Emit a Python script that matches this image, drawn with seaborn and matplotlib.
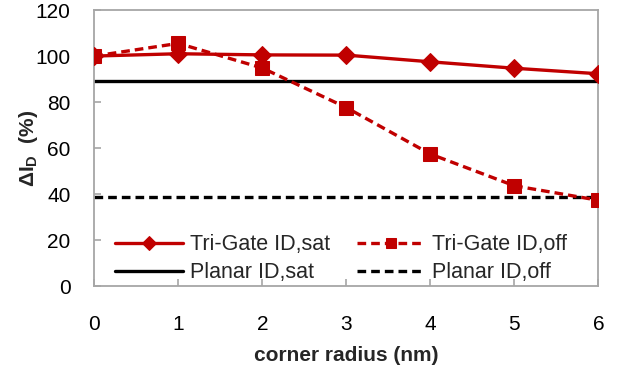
import matplotlib
matplotlib.use("Agg")
import matplotlib.pyplot as plt
import seaborn as sns
import pandas as pd
import numpy as np

radius = [0, 1, 2, 3, 4, 5, 6]
trigate_sat = [100, 101, 100.5, 100.4, 97.5, 94.7, 92.3]
trigate_off = [100, 105.5, 94.8, 77.6, 57.4, 43.6, 37.3]
planar_sat = 89.0
planar_off = 38.6

sns.set_theme(style="white")
plt.rcParams['font.family'] = ['Liberation Sans', 'DejaVu Sans']
plt.rcParams['mathtext.fontset'] = 'custom'
plt.rcParams['mathtext.rm'] = 'Liberation Sans'
plt.rcParams['mathtext.bf'] = 'Liberation Sans:bold'

fig = plt.figure(figsize=(6.24, 3.72), dpi=100)
ax = fig.add_axes([0.151, 0.231, 0.808, 0.742])

red = '#c00000'
dash = (0, (2.6, 1.5))
lw = 2.4
df_sat = pd.DataFrame({'r': radius, 'v': trigate_sat})
df_off = pd.DataFrame({'r': radius, 'v': trigate_off})

ax.axhline(planar_sat, color='black', lw=lw, label='Planar ID,sat', zorder=2)
ax.axhline(planar_off, color='black', lw=lw, ls=dash, label='Planar ID,off', zorder=2)
sns.lineplot(data=df_sat, x='r', y='v', ax=ax, color=red, lw=lw, marker='D',
             markersize=9, markeredgecolor=red, label='Tri-Gate ID,sat', zorder=3)
sns.lineplot(data=df_off, x='r', y='v', ax=ax, color=red, lw=lw, marker='s',
             markersize=9.5, markeredgecolor=red, linestyle=dash,
             label='Tri-Gate ID,off', zorder=3)

ax.set_xlim(0, 6)
ax.set_ylim(0, 120)
ax.set_xticks(range(0, 7))
ax.set_yticks(range(0, 121, 20))
ax.tick_params(axis='x', labelsize=15, direction='in', length=5, width=1.2,
               color='#a6a6a6', pad=20.5, bottom=True, labelcolor='black')
ax.tick_params(axis='y', labelsize=15, direction='in', length=5, width=1.2,
               color='#a6a6a6', pad=17, left=True, labelcolor='black')
for s in ax.spines.values():
    s.set_color('#a6a6a6')
    s.set_linewidth(1.3)
ax.set_xlabel('corner radius (nm)', fontsize=15, fontweight='bold', labelpad=9)
ax.set_ylabel(r'$\mathbf{\Delta I_D}$  $\mathbf{(\%)}$', fontsize=15, labelpad=-3)

h, l = ax.get_legend_handles_labels()
want = ['Tri-Gate ID,sat', 'Planar ID,sat', 'Tri-Gate ID,off', 'Planar ID,off']
handles = [h[l.index(w)] for w in want]
leg = ax.legend(handles, want, ncol=2, loc='lower left', bbox_to_anchor=(0.0415, 0.01),
                frameon=False, fontsize=15.5, handlelength=3.15, handletextpad=0.33,
                columnspacing=1.25, labelspacing=0.33, borderaxespad=0, borderpad=0)
for lh in leg.legend_handles:
    lh.set_markersize(7.5)

fig.savefig('out.png', dpi=100)
